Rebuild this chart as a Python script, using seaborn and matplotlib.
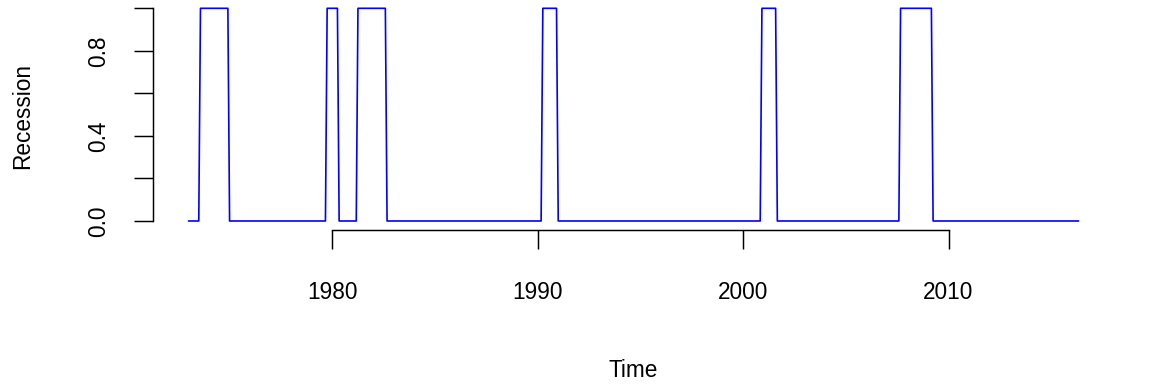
import numpy as np
import pandas as pd
import matplotlib
matplotlib.use("Agg")
import matplotlib.pyplot as plt
import seaborn as sns

# ---- data (monthly recession indicator, as shown on the time axis) ----
series_start = "1973-01"
series_end = "2016-05"
recession_starts = ["1973-08", "1979-10", "1981-04", "1990-04", "2000-12", "2007-09"]
recession_ends = ["1974-12", "1980-04", "1982-08", "1990-12", "2001-08", "2009-03"]
x_ticks = [1980, 1990, 2000, 2010]
y_ticks = [0.0, 0.2, 0.4, 0.6, 0.8, 1.0]
y_tick_labels = ["0.0", "", "0.4", "", "0.8", ""]

months = pd.period_range(series_start, series_end, freq="M")
rec = np.zeros(len(months))
for s, e in zip(recession_starts, recession_ends):
    mask = (months >= pd.Period(s, "M")) & (months <= pd.Period(e, "M"))
    rec[mask] = 1.0
time = months.year + (months.month - 1) / 12.0
df = pd.DataFrame({"Time": time, "Recession": rec})

# ---- style ----
sns.set_style("ticks")
plt.rcParams["font.family"] = ["Liberation Sans", "DejaVu Sans"]
plt.rcParams["text.color"] = "black"
plt.rcParams["axes.labelcolor"] = "black"
FS = 17

W, H = 1152, 384
fig = plt.figure(figsize=(W / 96, H / 96), dpi=96)
left_px, right_px, top_px, bottom_px = 152.9, 1114.2, -0.2, 229.5
ax = fig.add_axes([left_px / W, (H - bottom_px) / H,
                   (right_px - left_px) / W, (bottom_px - top_px) / H])

sns.lineplot(data=df, x="Time", y="Recession", ax=ax, color="#0000FF",
             linewidth=1.25, estimator=None, errorbar=None)

rng = time.max() - time.min()
ax.set_xlim(time.min() - 0.04 * rng, time.max() + 0.04 * rng)
ax.set_ylim(-0.04, 1.04)

for side in ["top", "right"]:
    ax.spines[side].set_visible(False)
for side in ["left", "bottom"]:
    ax.spines[side].set_linewidth(1.1)
    ax.spines[side].set_color("black")
ax.spines["left"].set_bounds(0, 1)
ax.spines["bottom"].set_bounds(x_ticks[0], x_ticks[-1])

ax.set_xticks(x_ticks)
ax.set_xticklabels([str(v) for v in x_ticks], fontsize=FS, va="baseline",
                   color="black")
ax.set_yticks(y_ticks)
ax.set_yticklabels(y_tick_labels, fontsize=FS, rotation=90,
                   rotation_mode="anchor", ha="center", va="baseline",
                   color="black")
ax.tick_params(axis="x", length=14.6, width=1.1, pad=37.4, colors="black")
ax.tick_params(axis="y", length=14.6, width=1.1, pad=21.0, colors="black")

ax.set_xlabel("Time", fontsize=FS, va="baseline", ha="center", color="black")
ax.xaxis.set_label_coords(0.5, -0.6434)
ax.set_ylabel("Recession", fontsize=FS, va="baseline", ha="center",
              rotation=90, rotation_mode="anchor", color="black")
ax.yaxis.set_label_coords(-0.1286, 0.495)

ax.grid(False)
fig.savefig("out.png", dpi=96, facecolor="white")
